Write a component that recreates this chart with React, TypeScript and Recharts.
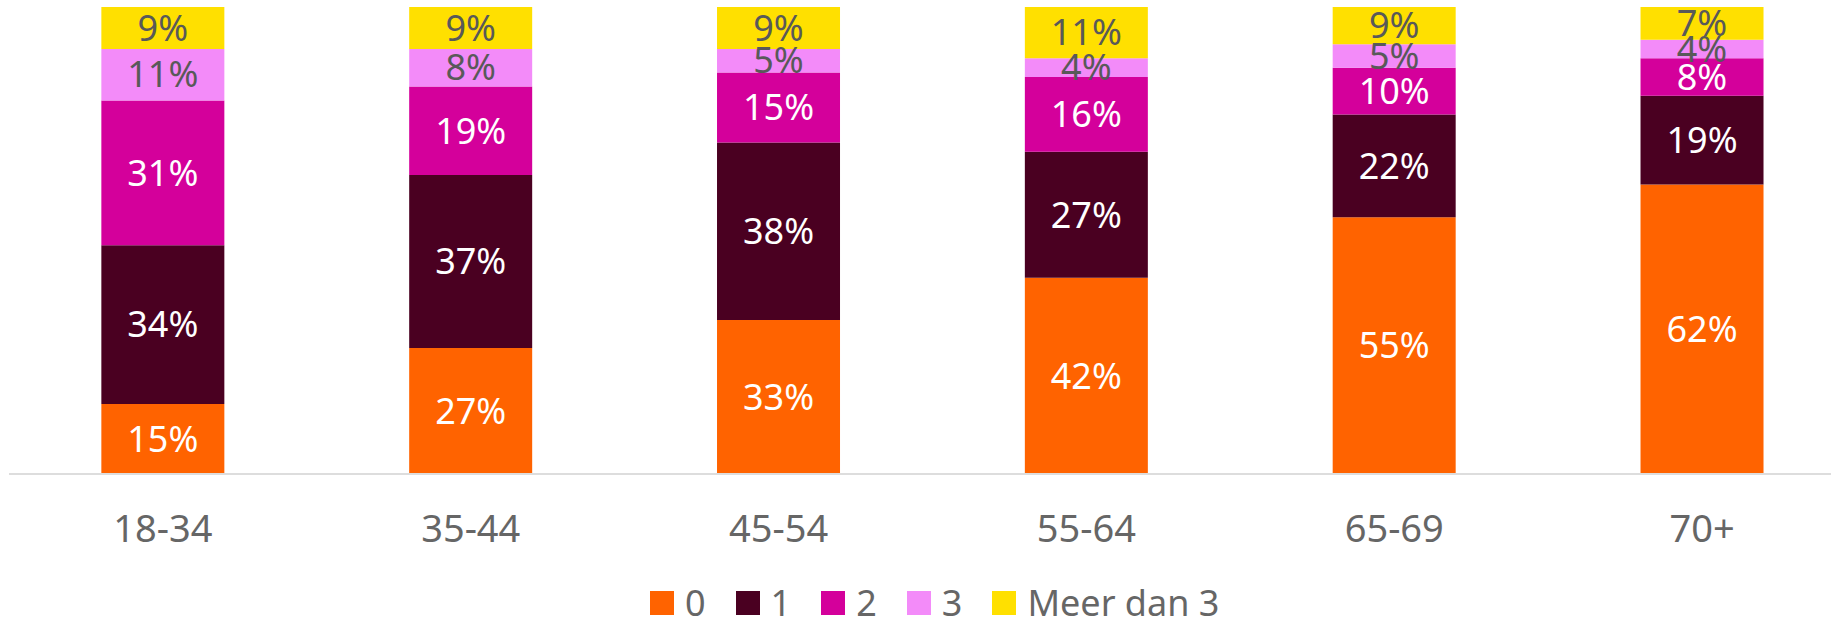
import React from 'react';
import { BarChart, Bar, XAxis, YAxis, Legend, LabelList } from 'recharts';

const ageGroups = ['18-34', '35-44', '45-54', '55-64', '65-69', '70+'];
const zero = [15, 27, 33, 42, 55, 62];
const one = [34, 37, 38, 27, 22, 19];
const two = [31, 19, 15, 16, 10, 8];
const three = [11, 8, 5, 4, 5, 4];
const moreThanThree = [9, 9, 9, 11, 9, 7];

const seriesNames = ['0', '1', '2', '3', 'Meer dan 3'];
const seriesColors = ['#FF6300', '#4A0021', '#D4009B', '#F38BF9', '#FFE000'];
const labelColors = ['#FFFFFF', '#FFFFFF', '#FFFFFF', '#595959', '#595959'];

const data = ageGroups.map((name, i) => ({
  name,
  s0: zero[i],
  s1: one[i],
  s2: two[i],
  s3: three[i],
  s4: moreThanThree[i],
}));

const FONT = '"Noto Sans", sans-serif';

const AgeTick = ({ x, y, payload }: any) => (
  <text x={x} y={y} dy={68} textAnchor="middle" fill="#666666" fontSize={38} fontFamily={FONT}>
    {payload.value}
  </text>
);

const LegendContent = () => (
  <div style={{ display: 'flex', alignItems: 'center', fontFamily: FONT, fontSize: 36, color: '#666666', lineHeight: '36px', whiteSpace: 'nowrap' }}>
    {seriesNames.map((name, i) => (
      <div key={name} style={{ display: 'flex', alignItems: 'center', marginRight: 30 }}>
        <div style={{ width: 24, height: 24, background: seriesColors[i], marginRight: 11 }} />
        <span>{name}</span>
      </div>
    ))}
  </div>
);

export default function App() {
  return (
    <div style={{ position: 'absolute', left: 0, top: 0, width: 1831, height: 620, overflow: 'hidden', background: '#fff' }}>
      <BarChart
        width={1856}
        height={620}
        data={data}
        margin={{ top: 7, right: 0, left: 9, bottom: 46 }}
        barCategoryGap="30%"
      >
        <XAxis
          dataKey="name"
          height={100}
          tickLine={false}
          tickSize={0}
          tickMargin={0}
          axisLine={{ stroke: '#DDDDDD', strokeWidth: 2 }}
          tick={<AgeTick />}
          interval={0}
        />
        <YAxis hide domain={[0, 100]} allowDataOverflow />
        <Legend
          verticalAlign="middle"
          layout="horizontal"
          content={<LegendContent />}
          wrapperStyle={{ top: 585, left: 650, width: 'auto' }}
        />
        {['s0', 's1', 's2', 's3', 's4'].map((key, i) => (
          <Bar
            key={key}
            dataKey={key}
            name={seriesNames[i]}
            stackId="a"
            fill={seriesColors[i]}
            isAnimationActive={false}
          >
            <LabelList
              dataKey={key}
              position="center"
              formatter={(v: any) => `${v}%`}
              fill={labelColors[i]}
              fontSize={36}
              fontFamily={FONT}
            />
          </Bar>
        ))}
      </BarChart>
    </div>
  );
}
